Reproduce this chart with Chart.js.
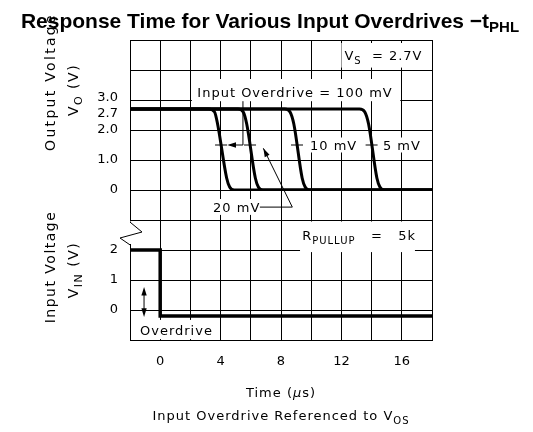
<!DOCTYPE html>
<html lang="en">
<head>
<meta charset="UTF-8">
<title>Response Time for Various Input Overdrives</title>
<script src="https://cdn.jsdelivr.net/npm/chart.js"></script>
<style>
  * { margin: 0; padding: 0; }
  body { background: #fff; width: 533px; height: 432px; overflow: hidden; }
</style>
</head>
<body>
<canvas id="chart" width="533" height="432"></canvas>
<script>
// time axis, microseconds
const timeLabels = [0, 4, 8, 12, 16];
// output voltage tick values and their labels
const voTicks = [0, 1, 2, 2.7, 3];
const voLabels = ['0', '1.0', '2.0', '2.7', '3.0'];
// input voltage ticks
const vinTicks = [0, 1, 2];
const vinLabels = ['0', '1', '2'];

// output voltage (V) vs time (us), one trace per overdrive
const vo100mV = [[-2, 2.7], [3.2, 2.7], [3.6, 2.6], [3.8, 2.2], [4.4, 0.4], [4.6, 0.1], [4.9, 0], [18, 0]];
const vo20mV = [[-2, 2.7], [5.15, 2.7], [5.5, 2.6], [5.73, 2.2], [6.3, 0.4], [6.5, 0.1], [6.8, 0], [18, 0]];
const vo10mV = [[-2, 2.7], [8.25, 2.7], [8.6, 2.6], [8.85, 2.2], [9.4, 0.4], [9.6, 0.1], [9.9, 0], [18, 0]];
const vo5mV = [[-2, 2.7], [13.2, 2.7], [13.55, 2.6], [13.8, 2.2], [14.35, 0.4], [14.55, 0.1], [14.85, 0], [18, 0]];
// where each trace passes 1.5 V (marked with a short dash)
const crossTimes = [4.03, 5.95, 9.06, 14.0];

// input step, volts
const vin = [[-2, 2], [0, 2], [0, -0.2], [18, -0.2]];

const pts = a => a.map(([x, y]) => ({ x, y }));
const FONT = '"DejaVu Sans"';
// the 2.7 and 3.0 labels sit close, so they are nudged apart like the original
const labelNudge = { 2.7: -0.15, 3: 0.07 };

function trace(data, axis, width, smooth) {
  return {
    data: pts(data),
    yAxisID: axis,
    borderColor: '#000',
    borderWidth: width,
    pointRadius: 0,
    fill: false,
    cubicInterpolationMode: smooth ? 'monotone' : 'default',
    tension: 0
  };
}

// draws text pieces in a row, e.g. V with a subscript
function run(ctx, parts, x, y, align) {
  let w = 0;
  parts.forEach(p => { ctx.font = p[1]; w += ctx.measureText(p[0]).width; });
  let cx = align === 'center' ? x - w / 2 : x;
  parts.forEach(p => {
    ctx.font = p[1];
    ctx.fillText(p[0], cx, y + (p[2] || 0));
    cx += ctx.measureText(p[0]).width;
  });
}

function arrowHead(ctx, x, y, ang) {
  ctx.beginPath();
  ctx.moveTo(x, y);
  ctx.lineTo(x - 9 * Math.cos(ang - 0.3), y - 9 * Math.sin(ang - 0.3));
  ctx.lineTo(x - 9 * Math.cos(ang + 0.3), y - 9 * Math.sin(ang + 0.3));
  ctx.closePath();
  ctx.fill();
}

const annotate = {
  id: 'annotate',
  afterDraw(chart) {
    const ctx = chart.ctx, a = chart.chartArea;
    const X = t => chart.scales.x.getPixelForValue(t);
    const YO = v => chart.scales.yOut.getPixelForValue(v);
    const YI = v => chart.scales.yIn.getPixelForValue(v);
    const f13 = '13px ' + FONT, f10 = '10px ' + FONT;
    ctx.save();
    ctx.fillStyle = '#000';
    ctx.strokeStyle = '#000';
    ctx.textBaseline = 'alphabetic';

    // title
    ctx.letterSpacing = '0px';
    run(ctx, [['Response Time for Various Input Overdrives \u2212t', 'bold 21px "Liberation Sans"'],
              ['PHL', 'bold 15px "Liberation Sans"', 4]], 270, 28, 'center');

    ctx.letterSpacing = '1px';
    // white label boxes
    const box = (x0, x1, y0, y1) => { ctx.fillStyle = '#fff'; ctx.fillRect(x0, y0, x1 - x0, y1 - y0); ctx.fillStyle = '#000'; };
    box(X(12.0), X(17.9), YO(4.9), YO(4.08));
    box(X(2.1), X(15.9), YO(3.7), YO(2.96));
    box(X(9.7), X(13.2), YO(1.75), YO(1.25));
    box(X(14.5), X(17.6), YO(1.75), YO(1.25));
    box(X(3.3), X(6.55), YO(-0.3), YO(-0.83));
    box(X(9.26), X(16.87), YI(2.95), YI(1.93));
    box(X(-1.54), X(3.7), YI(-0.33), YI(-0.97));

    run(ctx, [['V', f13], ['S', f10, 4], ['  = 2.7V', f13]], X(12.2), YO(4.33));
    run(ctx, [['Input Overdrive = 100 mV', f13]], X(8.93), YO(3.1), 'center');
    run(ctx, [['10 mV', f13]], X(9.92), YO(1.33));
    run(ctx, [['5 mV', f13]], X(14.75), YO(1.33));
    run(ctx, [['20 mV', f13]], X(3.5), YO(-0.73));
    run(ctx, [['R', f13], ['PULLUP', f10, 4], ['   =   5k', f13]], X(9.4), YI(2.35));
    run(ctx, [['Overdrive', f13]], X(-1.34), YI(-0.83));

    // dashes where traces cross 1.5 V
    ctx.lineWidth = 1;
    crossTimes.forEach(t => {
      ctx.beginPath();
      ctx.moveTo(X(t) - 6, YO(1.5));
      ctx.lineTo(X(t) + 6, YO(1.5));
      ctx.stroke();
    });

    // 100 mV leader
    ctx.beginPath();
    ctx.moveTo(X(5.48), YO(2.96));
    ctx.lineTo(X(5.48), YO(1.5));
    ctx.lineTo(X(4.6), YO(1.5));
    ctx.stroke();
    arrowHead(ctx, X(4.45), YO(1.5), Math.PI);

    // 20 mV leader
    ctx.beginPath();
    ctx.moveTo(X(6.6), YO(-0.57));
    ctx.lineTo(X(8.75), YO(-0.57));
    ctx.lineTo(X(6.83), YO(1.39));
    ctx.stroke();
    const ang = Math.atan2(YO(1.39) - YO(-0.57), X(6.83) - X(8.75));
    arrowHead(ctx, X(6.83), YO(1.39), ang);

    // overdrive double arrow
    ctx.beginPath();
    ctx.moveTo(X(-1.07), YI(0.6));
    ctx.lineTo(X(-1.07), YI(-0.06));
    ctx.stroke();
    arrowHead(ctx, X(-1.07), YI(0.77), -Math.PI / 2);
    arrowHead(ctx, X(-1.07), YI(-0.23), Math.PI / 2);

    // break in the left axis
    ctx.fillStyle = '#fff';
    ctx.fillRect(a.left - 3, YI(2.95), 6, YI(2.2) - YI(2.95));
    ctx.fillStyle = '#000';
    ctx.beginPath();
    ctx.moveTo(a.left, YI(2.93));
    ctx.lineTo(a.left + 12, YI(2.6));
    ctx.lineTo(a.left - 10, YI(2.4));
    ctx.lineTo(a.left, YI(2.17));
    ctx.stroke();

    // axis titles
    const f14 = '14px ' + FONT, f11 = '11px ' + FONT;
    const rot = (parts, cx, cy, sp) => {
      ctx.save();
      ctx.letterSpacing = sp;
      ctx.translate(cx, cy);
      ctx.rotate(-Math.PI / 2);
      run(ctx, parts, 0, 0, 'center');
      ctx.restore();
    };
    rot([['Output Voltage', f14]], 55, 82, '2.3px');
    rot([['V', f14], ['O', f11, 4], [' (V)', f14]], 78, 90, '1.5px');
    rot([['Input Voltage', f14]], 55, 267, '1.5px');
    rot([['V', f14], ['IN', f11, 4], [' (V)', f14]], 78, 270, '1.5px');

    ctx.letterSpacing = '1px';
    run(ctx, [['Time (', f13], ['\u03bc', 'italic 13px ' + FONT], ['s)', f13]], 281, 397, 'center');
    run(ctx, [['Input Overdrive Referenced to V', f13], ['OS', f10, 4]], 281, 420, 'center');
    ctx.restore();
  }
};

new Chart(document.getElementById('chart'), {
  type: 'line',
  data: {
    datasets: [
      trace(vo100mV, 'yOut', 3, true),
      trace(vo20mV, 'yOut', 3, true),
      trace(vo10mV, 'yOut', 3, true),
      trace(vo5mV, 'yOut', 3, true),
      trace(vin, 'yIn', 3.5, false)
    ]
  },
  options: {
    responsive: false,
    animation: false,
    layout: { padding: { left: 30, top: 40, right: 101, bottom: 62 } },
    plugins: { legend: { display: false }, tooltip: { enabled: false } },
    scales: {
      x: {
        type: 'linear', min: -2, max: 18,
        border: { display: true, color: '#000', width: 1 },
        grid: { color: '#000', lineWidth: 1, drawTicks: false },
        ticks: {
          stepSize: 2, padding: 14, color: '#000', autoSkip: false, maxRotation: 0,
          font: { family: 'DejaVu Sans', size: 13 },
          callback: v => timeLabels.includes(v) ? String(v) : ''
        },
        afterFit: s => { s.height = 30; }
      },
      // input voltage, lower half (left-side stacks are laid out bottom first)
      yIn: {
        type: 'linear', position: 'left', stack: 'v', stackWeight: 1, min: -1, max: 4,
        border: { display: false },
        grid: { color: '#000', lineWidth: 1, drawTicks: false },
        ticks: {
          stepSize: 1, padding: 12, color: '#000', autoSkip: false,
          font: { family: 'DejaVu Sans', size: 13 },
          callback: v => vinTicks.includes(v) ? vinLabels[vinTicks.indexOf(v)] : ''
        },
        afterFit: s => { s.width = 100; }
      },
      // output voltage, upper half
      yOut: {
        type: 'linear', position: 'left', stack: 'v', stackWeight: 1, min: 0, max: 5,
        border: { display: false },
        grid: { color: c => c.tick && c.tick.labelOnly ? 'rgba(0,0,0,0)' : '#000', lineWidth: 1, drawTicks: false },
        afterBuildTicks: s => {
          const grid = [0, 1, 2, 3, 4, 5].map(v => ({ value: v }));
          const labels = voTicks.map((v, i) => ({ value: v + (labelNudge[v] || 0), text: voLabels[i], labelOnly: true }));
          s.ticks = grid.concat(labels).sort((p, q) => p.value - q.value);
        },
        ticks: {
          padding: 12, color: '#000', autoSkip: false,
          font: { family: 'DejaVu Sans', size: 13 },
          callback: (v, i, ticks) => ticks[i].text || ''
        },
        afterFit: s => { s.width = 100; }
      }
    }
  },
  plugins: [annotate]
});
</script>
</body>
</html>
